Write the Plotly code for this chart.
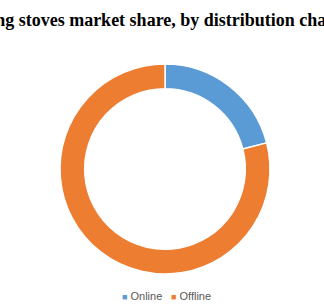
import plotly.graph_objects as go

title_text = "Cooking stoves market share, by distribution channel"
categories = ["Online", "Offline"]
shares = [21, 79]
colors = ["#5B9BD5", "#ED7D31"]

W, H = 324, 307
cx, cy, r = 165, 169, 105

fig = go.Figure()
fig.add_trace(go.Pie(
    labels=categories,
    values=shares,
    hole=0.765,
    sort=False,
    direction="clockwise",
    rotation=0,
    textinfo="none",
    hoverinfo="label+percent",
    marker=dict(colors=colors, line=dict(color="white", width=1.5)),
    showlegend=False,
    domain=dict(x=[(cx - r) / W, (cx + r) / W],
                y=[(H - cy - r) / H, (H - cy + r) / H]),
))

# legend built from categories
legend_x = [142 / W, 191 / W]
for i, (lab, col) in enumerate(zip(categories, colors)):
    fig.add_annotation(
        x=legend_x[i], y=(H - 296) / H, xref="paper", yref="paper",
        xanchor="center", yanchor="middle", showarrow=False,
        text=f"<span style='color:{col};font-size:9px'>■</span> {lab}",
        font=dict(family="Liberation Sans, Arial", size=11, color="#595959"),
    )

fig.update_layout(
    width=W, height=H,
    margin=dict(l=0, r=0, t=0, b=0),
    paper_bgcolor="white",
    plot_bgcolor="white",
    title=dict(
        text=f"<b>{title_text}</b>",
        x=0.476, xanchor="center", xref="paper",
        y=1 - 20 / H, yanchor="middle", yref="container",
        font=dict(family="Liberation Serif, Times New Roman, serif", size=18, color="#000000"),
    ),
)

fig.write_html("out.html")
